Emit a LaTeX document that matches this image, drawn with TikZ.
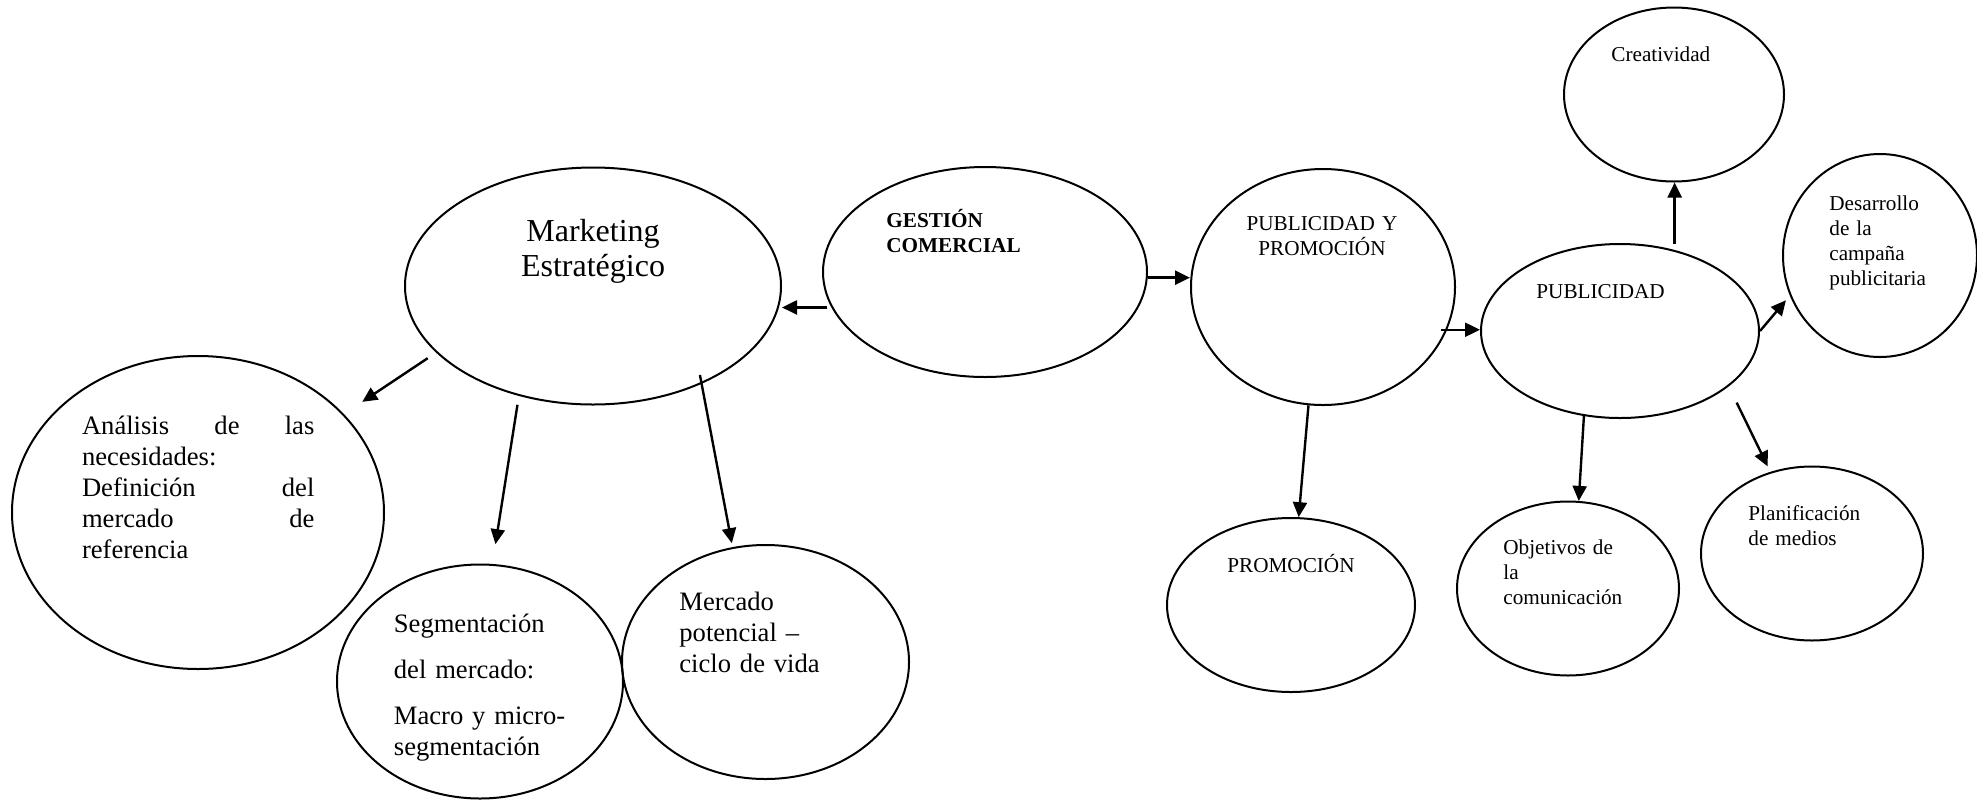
\documentclass[tikz,border=0pt]{standalone}
\usepackage{fontspec}
\setmainfont{Liberation Serif}
\usetikzlibrary{shapes.geometric,arrows.meta}
\begin{document}
\begin{tikzpicture}[x=0.5pt,y=-0.5pt,
  bubble/.style={ellipse,draw,line width=1pt,inner sep=0pt},
  arr/.style={line width=1.2pt,-{Triangle[length=7.5pt,width=7pt]}},
  txt/.style={inner sep=0pt,anchor=base west,align=left},
  small/.style={font=\fontsize{10.6}{12.5}\selectfont},
  mid/.style={font=\fontsize{13.3}{15.5}\selectfont},
  big/.style={font=\fontsize{16}{17.5}\selectfont}]
\useasboundingbox (0,0) rectangle (1977,799);

% bubbles
\node[bubble,minimum width=188pt,minimum height=118.5pt] (mkt) at (593,286) {};
\node[bubble,minimum width=162pt,minimum height=105pt] (ges) at (985,272) {};
\node[bubble,minimum width=132pt,minimum height=118pt] (pyp) at (1323,287) {};
\node[bubble,minimum width=139pt,minimum height=87pt] (pub) at (1620,331) {};
\node[bubble,minimum width=110pt,minimum height=87pt] (cre) at (1674,94.5) {};
\node[bubble,minimum width=97pt,minimum height=101.5pt] (des) at (1880,255.5) {};
\node[bubble,minimum width=111pt,minimum height=87pt] (pla) at (1812,553.5) {};
\node[bubble,minimum width=111pt,minimum height=87pt] (obj) at (1568,588.5) {};
\node[bubble,minimum width=124pt,minimum height=87pt] (pro) at (1291,605) {};
\node[bubble,minimum width=186pt,minimum height=156.5pt] (ana) at (198,512.5) {};
\node[bubble,minimum width=143pt,minimum height=117pt] (seg) at (480,681.5) {};
\node[bubble,minimum width=143.5pt,minimum height=117pt] (mer) at (765.5,662) {};

% labels
\node[txt,big,text width=120pt,align=center,anchor=base] (mkt-t) at (593,241) {Marketing\\Estratégico};
\node[txt,font=\fontsize{10.6}{12.5}\selectfont\bfseries,text width=80pt] (ges-t) at (886,227) {GESTIÓN\\COMERCIAL};
\node[txt,small,text width=90pt,align=center,anchor=base] (pyp-t) at (1322,230) {PUBLICIDAD Y\\PROMOCIÓN};
\node[txt,small] (pub-t) at (1536,298) {PUBLICIDAD};
\node[txt,small] (cre-t) at (1611,61) {Creatividad};
\node[txt,small,text width=60pt] (des-t) at (1829,210.5) {Desarrollo\\de la\\campaña\\publicitaria};
\node[txt,small,text width=70pt] (pla-t) at (1748,520) {Planificación\\de medios};
\node[txt,small,text width=70pt] (obj-t) at (1503,554.5) {Objetivos de\\la\\comunicación};
\node[txt,small,anchor=base] (pro-t) at (1291,572) {PROMOCIÓN};
\node[txt,mid,text width=116.2pt] (ana-t) at (81.6,434.8)
  {Análisis\hfill de\hfill las\\necesidades:\\Definición\hfill del\\mercado\hfill de\\referencia};
\node[txt,mid,text width=100pt] (seg-t) at (393.5,632)
  {Segmentación\\[7.5pt]del mercado:\\[7.5pt]Macro y micro-\\segmentación};
\node[txt,mid,text width=100pt] (mer-t) at (679,610.7) {Mercado\\potencial –\\ciclo de vida};

% connectors
\draw[arr,shorten <=2pt] (ges.193) -- (ges.193 -| mkt.east);
\draw[arr,shorten <=5pt,shorten >=11pt] (mkt.203) -- (ana.34);
\draw[arr,shorten <=4.5pt,shorten >=10pt] (mkt.236) -- (seg.84);
\draw[arr,shorten <=-4.5pt,shorten >=2pt] (mkt.318) -- (mer.106);
\draw[arr] (ges.-2) -- (ges.-2 -| pyp.west);
\draw[arr,shorten <=-3pt] (pyp.-19) -- (pyp.-19 -| pub.west);
\draw[arr] (pyp.263) -- (pro.85);
\draw[arr,shorten <=3pt] (pub.56) -- (pub.56 |- cre.south);
\draw[arr,shorten >=3pt] (pub.east) -- (des.204);
\draw[arr] (pub.247) -- (obj.83);
\draw[arr,shorten <=9pt,shorten >=3pt] (pub.333) -- (pla.117);
\end{tikzpicture}
\end{document}
